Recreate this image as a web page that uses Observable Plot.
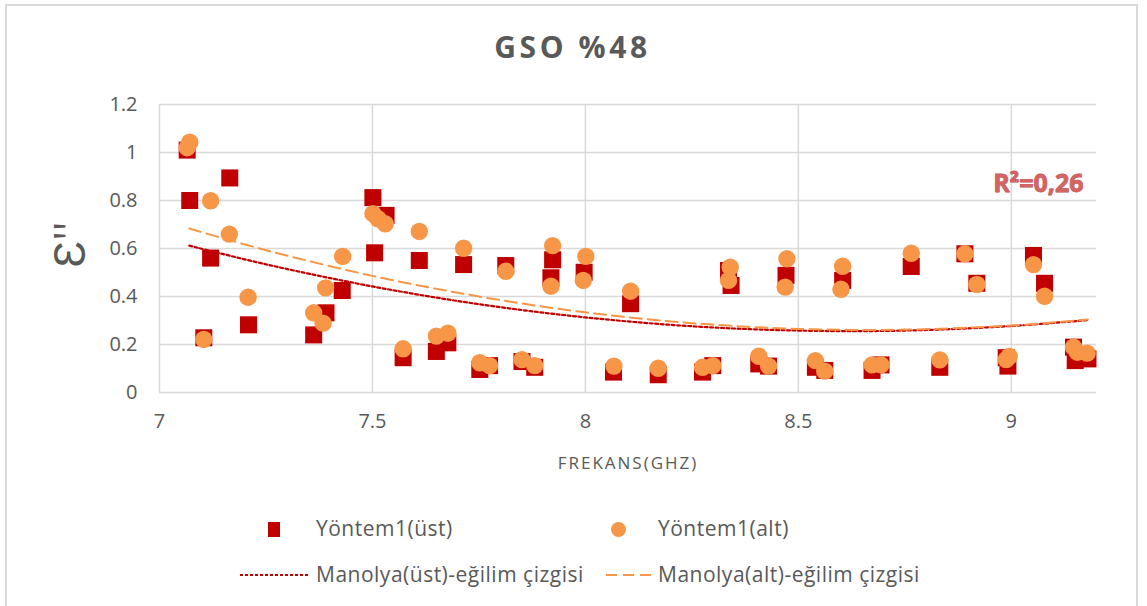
<!DOCTYPE html>
<html>
<head>
<meta charset="utf-8">
<script src="https://cdn.jsdelivr.net/npm/d3@7"></script>
<script src="https://cdn.jsdelivr.net/npm/@observablehq/plot@0.6"></script>
<style>
  html, body { margin: 0; padding: 0; background: #fff; }
  #wrap { position: relative; width: 1147px; height: 606px; overflow: hidden; background: #fff; font-family: "Open Sans", sans-serif; color: #595959; }
  #frame { position: absolute; left: 5px; top: 4px; width: 1133px; height: 700px; border: 2px solid #d9d9d9; box-sizing: border-box; }
  #title { position: absolute; left: 0; width: 1145px; top: 26px; text-align: center; font-weight: bold; font-size: 30px; letter-spacing: 3.6px; color: #595959; }
  #chart { position: absolute; left: 0; top: 90px; }
  .leg { position: absolute; font-size: 21px; letter-spacing: 0.5px; color: #595959; white-space: nowrap; line-height: 1; }
  .sw { position: absolute; }
</style>
</head>
<body>
<div id="wrap">
  <div id="frame"></div>
  <div id="title"></div>
  <div id="chart"></div>
  <div id="legend"></div>
</div>
<script>
const chartTitle = "GSO %48";
const xLabel = "FREKANS(GHZ)";
const yLabel = "Ɛ''";
const r2Label = "R²=0,26";
const seriesNames = ["Yöntem1(üst)", "Yöntem1(alt)", "Manolya(üst)-eğilim çizgisi", "Manolya(alt)-eğilim çizgisi"];
const xTicks = [7, 7.5, 8, 8.5, 9];
const yTicks = [0, 0.2, 0.4, 0.6, 0.8, 1, 1.2];

// Yöntem1(üst) — squares
const ustX = [7.065, 7.071, 7.165, 7.120, 7.104, 7.209, 7.362, 7.391, 7.429, 7.501, 7.532, 7.505, 7.572, 7.610, 7.650, 7.677, 7.714, 7.752, 7.775, 7.813, 7.851, 7.881, 7.919, 7.923, 7.997, 8.066, 8.106, 8.171, 8.275, 8.299, 8.336, 8.342, 8.407, 8.430, 8.471, 8.540, 8.562, 8.604, 8.673, 8.694, 8.765, 8.832, 8.891, 8.919, 8.988, 8.992, 9.052, 9.078, 9.146, 9.150, 9.180];
const ustY = [1.010, 0.800, 0.894, 0.560, 0.228, 0.282, 0.240, 0.332, 0.425, 0.812, 0.738, 0.582, 0.145, 0.550, 0.171, 0.207, 0.533, 0.096, 0.112, 0.529, 0.129, 0.105, 0.478, 0.553, 0.501, 0.085, 0.370, 0.074, 0.085, 0.112, 0.508, 0.446, 0.119, 0.110, 0.488, 0.105, 0.092, 0.467, 0.092, 0.115, 0.525, 0.105, 0.578, 0.455, 0.145, 0.110, 0.571, 0.455, 0.189, 0.133, 0.140];

// Yöntem1(alt) — circles
const altX = [7.071, 7.065, 7.120, 7.164, 7.208, 7.104, 7.362, 7.384, 7.390, 7.430, 7.501, 7.513, 7.530, 7.572, 7.610, 7.650, 7.677, 7.714, 7.752, 7.775, 7.813, 7.851, 7.881, 7.919, 7.923, 7.995, 8.001, 8.067, 8.106, 8.171, 8.275, 8.299, 8.340, 8.336, 8.407, 8.430, 8.473, 8.469, 8.540, 8.562, 8.604, 8.600, 8.673, 8.694, 8.765, 8.832, 8.891, 8.919, 8.988, 8.995, 9.052, 9.078, 9.146, 9.155, 9.178];
const altY = [1.043, 1.020, 0.799, 0.660, 0.397, 0.221, 0.332, 0.289, 0.436, 0.567, 0.745, 0.724, 0.703, 0.182, 0.671, 0.235, 0.247, 0.601, 0.124, 0.112, 0.505, 0.137, 0.112, 0.443, 0.612, 0.467, 0.567, 0.110, 0.422, 0.101, 0.105, 0.112, 0.522, 0.467, 0.151, 0.110, 0.557, 0.439, 0.133, 0.089, 0.526, 0.430, 0.115, 0.115, 0.580, 0.136, 0.578, 0.450, 0.137, 0.150, 0.533, 0.401, 0.189, 0.168, 0.164];

// Trend lines
const trendX = [7.07, 7.25, 7.5, 7.75, 8.0, 8.25, 8.5, 8.75, 9.0, 9.18];
const trendUst = [0.612, 0.534, 0.442, 0.368, 0.313, 0.276, 0.258, 0.258, 0.277, 0.302];
const trendAlt = [0.683, 0.593, 0.486, 0.400, 0.334, 0.289, 0.265, 0.262, 0.279, 0.304];

const colUst = "#C00000";
const colAlt = "#F79646";

const ust = ustX.map((x, i) => ({x, y: ustY[i]}));
const alt = altX.map((x, i) => ({x, y: altY[i]}));
const tUst = trendX.map((x, i) => ({x, y: trendUst[i]}));
const tAlt = trendX.map((x, i) => ({x, y: trendAlt[i]}));

document.getElementById("title").textContent = chartTitle;

const fmt = d => String(+d.toFixed(1));

const plot = Plot.plot({
  width: 1147,
  height: 400,
  marginLeft: 159,
  marginRight: 51,
  marginTop: 14,
  marginBottom: 98,
  style: {fontFamily: "'Open Sans', sans-serif", fontSize: "20px", color: "#595959", background: "transparent"},
  x: {domain: [7, 9.2], label: null},
  y: {domain: [0, 1.2], label: null},
  marks: [
    Plot.gridY(yTicks, {stroke: "#d9d9d9", strokeOpacity: 1, strokeWidth: 1.5}),
    Plot.gridX(xTicks, {stroke: "#d9d9d9", strokeOpacity: 1, strokeWidth: 1.5}),
    Plot.axisY(yTicks, {label: null, tickSize: 0, tickPadding: 22, tickFormat: fmt, fill: "#595959", fontSize: 20}),
    Plot.axisX(xTicks, {label: null, tickSize: 0, tickPadding: 21, tickFormat: fmt, fill: "#595959", fontSize: 20}),
    Plot.text([xLabel], {frameAnchor: "bottom", dy: 71, fontSize: 17, fill: "#595959", lineAnchor: "middle", className: "xlab"}),
    Plot.text([yLabel], {frameAnchor: "left", dx: -89, dy: -4, rotate: -90, fontSize: 44, fill: "#595959", lineAnchor: "middle", textAnchor: "middle"}),
    Plot.dot(ust, {x: "x", y: "y", symbol: "square", r: 9.6, fill: colUst, stroke: "none"}),
    Plot.dot(alt, {x: "x", y: "y", symbol: "circle", r: 8.7, fill: colAlt, stroke: "none"}),
    Plot.line(tUst, {x: "x", y: "y", curve: "catmull-rom", stroke: colUst, strokeWidth: 2.2, strokeDasharray: "3,2.5"}),
    Plot.line(tAlt, {x: "x", y: "y", curve: "catmull-rom", stroke: colAlt, strokeWidth: 2, strokeDasharray: "12,6"}),
    Plot.text([r2Label], {frameAnchor: "top-right", dx: -13, dy: 79, textAnchor: "end", lineAnchor: "middle", fontSize: 25, fontWeight: "bold", fill: "#d26463", stroke: "#b94a48", strokeWidth: 0.8, fontFamily: "'Open Sans', sans-serif"})
  ]
});
d3.select(plot).selectAll("text").filter(function() { return this.textContent === xLabel; }).style("letter-spacing", "2px");
document.getElementById("chart").appendChild(plot);

// Legend
const leg = document.getElementById("legend");
function add(html) { leg.insertAdjacentHTML("beforeend", html); }
add(`<div class="sw" style="left:268px;top:522px;width:12px;height:15px;background:${colUst}"></div>`);
add(`<div class="leg" style="left:316px;top:518px">${seriesNames[0]}</div>`);
add(`<div class="sw" style="left:611px;top:522px;width:15px;height:15px;border-radius:50%;background:${colAlt}"></div>`);
add(`<div class="leg" style="left:658px;top:518px">${seriesNames[1]}</div>`);
add(`<svg class="sw" style="left:240px;top:565px" width="68" height="20"><line x1="0" y1="10" x2="68" y2="10" stroke="${colUst}" stroke-width="2" stroke-dasharray="3,2"/></svg>`);
add(`<div class="leg" style="left:316px;top:564px">${seriesNames[2]}</div>`);
add(`<svg class="sw" style="left:606px;top:565px" width="48" height="20"><line x1="0" y1="10" x2="48" y2="10" stroke="${colAlt}" stroke-width="2" stroke-dasharray="11,6"/></svg>`);
add(`<div class="leg" style="left:658px;top:564px">${seriesNames[3]}</div>`);
</script>
</body>
</html>
